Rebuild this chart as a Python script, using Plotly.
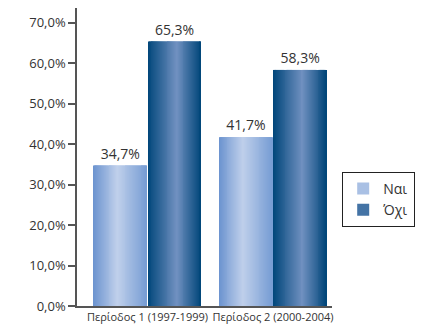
import plotly.graph_objects as go

# Data
periods = ["Περίοδος 1 (1997-1999)", "Περίοδος 2 (2000-2004)"]
series_names = ["Ναι", "Όχι"]
values_nai = [34.7, 41.7]
values_oxi = [65.3, 58.3]
y_ticks = [0, 10, 20, 30, 40, 50, 60, 70]
y_tick_labels = [f"{v:.1f}%".replace(".", ",") for v in y_ticks]

# Horizontal gradient stops for each series (position across bar, colour)
gradient_stops = {
    "Ναι": [(0.0, "#6b93cf"), (0.45, "#c0d0eb"), (1.0, "#779dd4")],
    "Όχι": [(0.0, "#00467a"), (0.55, "#7191c1"), (1.0, "#004679")],
}


def hex_to_rgb(h):
    h = h.lstrip("#")
    return tuple(int(h[i:i + 2], 16) for i in (0, 2, 4))


def interp_color(stops, t):
    for (t0, c0), (t1, c1) in zip(stops[:-1], stops[1:]):
        if t0 <= t <= t1:
            f = (t - t0) / (t1 - t0) if t1 > t0 else 0
            a, b = hex_to_rgb(c0), hex_to_rgb(c1)
            r = [round(a[k] + (b[k] - a[k]) * f) for k in range(3)]
            return "rgb({},{},{})".format(*r)
    return stops[-1][1]


fig = go.Figure()

half = 0.42      # bar width in category units
gap = 0.012      # gap between paired bars
n_slices = 56    # roughly one slice per pixel of bar width

layouts = [
    ("Ναι", values_nai, -half - gap / 2),
    ("Όχι", values_oxi, gap / 2),
]

for name, vals, start in layouts:
    step = half / n_slices
    for i in range(n_slices):
        t = (i + 0.5) / n_slices
        color = interp_color(gradient_stops[name], t)
        is_legend = i == n_slices // 3
        fig.add_trace(go.Bar(
            x=periods, y=vals,
            offset=start + i * step,
            width=step * (2.0 if i < n_slices - 1 else 1.0),
            marker=dict(color=color, line=dict(width=0)),
            name=name,
            legendgroup=name,
            showlegend=is_legend,
            hoverinfo="skip",
        ))
    # value labels on an invisible full-width bar
    fig.add_trace(go.Bar(
        x=periods, y=vals,
        offset=start, width=half,
        marker=dict(color="rgba(0,0,0,0)", line=dict(width=0)),
        text=[f"{v:.1f}%".replace(".", ",") for v in vals],
        textposition="outside",
        constraintext="none",
        cliponaxis=False,
        textfont=dict(size=14, color="#333333"),
        showlegend=False,
        hoverinfo="skip",
    ))

fig.update_layout(
    width=423, height=328,
    margin=dict(l=77, r=78, t=8, b=22),
    barmode="overlay",
    separators=",.",
    plot_bgcolor="white",
    paper_bgcolor="white",
    font=dict(family="Open Sans, Noto Sans, sans-serif", color="#333333"),
    showlegend=True,
    legend=dict(
        x=1.04, xanchor="left", y=0.45, yanchor="top",
        bordercolor="#222222", borderwidth=1,
        font=dict(size=14, color="#333333"),
        traceorder="normal",
        itemclick=False, itemdoubleclick=False,
    ),
)

fig.update_yaxes(
    range=[0, 73.6],
    tickmode="array",
    tickvals=y_ticks,
    ticktext=y_tick_labels,
    automargin=False,
    showgrid=False, zeroline=False,
    showline=True, linecolor="#555555", linewidth=1.5,
    ticks="outside", ticklen=7, tickcolor="#555555", tickwidth=1.5,
    tickfont=dict(size=13, color="#333333"),
)

fig.update_xaxes(
    type="category",
    range=[-0.561, 1.47],
    automargin=False,
    tickangle=0,
    showgrid=False, zeroline=False,
    showline=True, linecolor="#555555", linewidth=1.5,
    ticks="", ticklen=0,
    tickfont=dict(size=11, color="#333333"),
)

fig.write_html("out.html")
